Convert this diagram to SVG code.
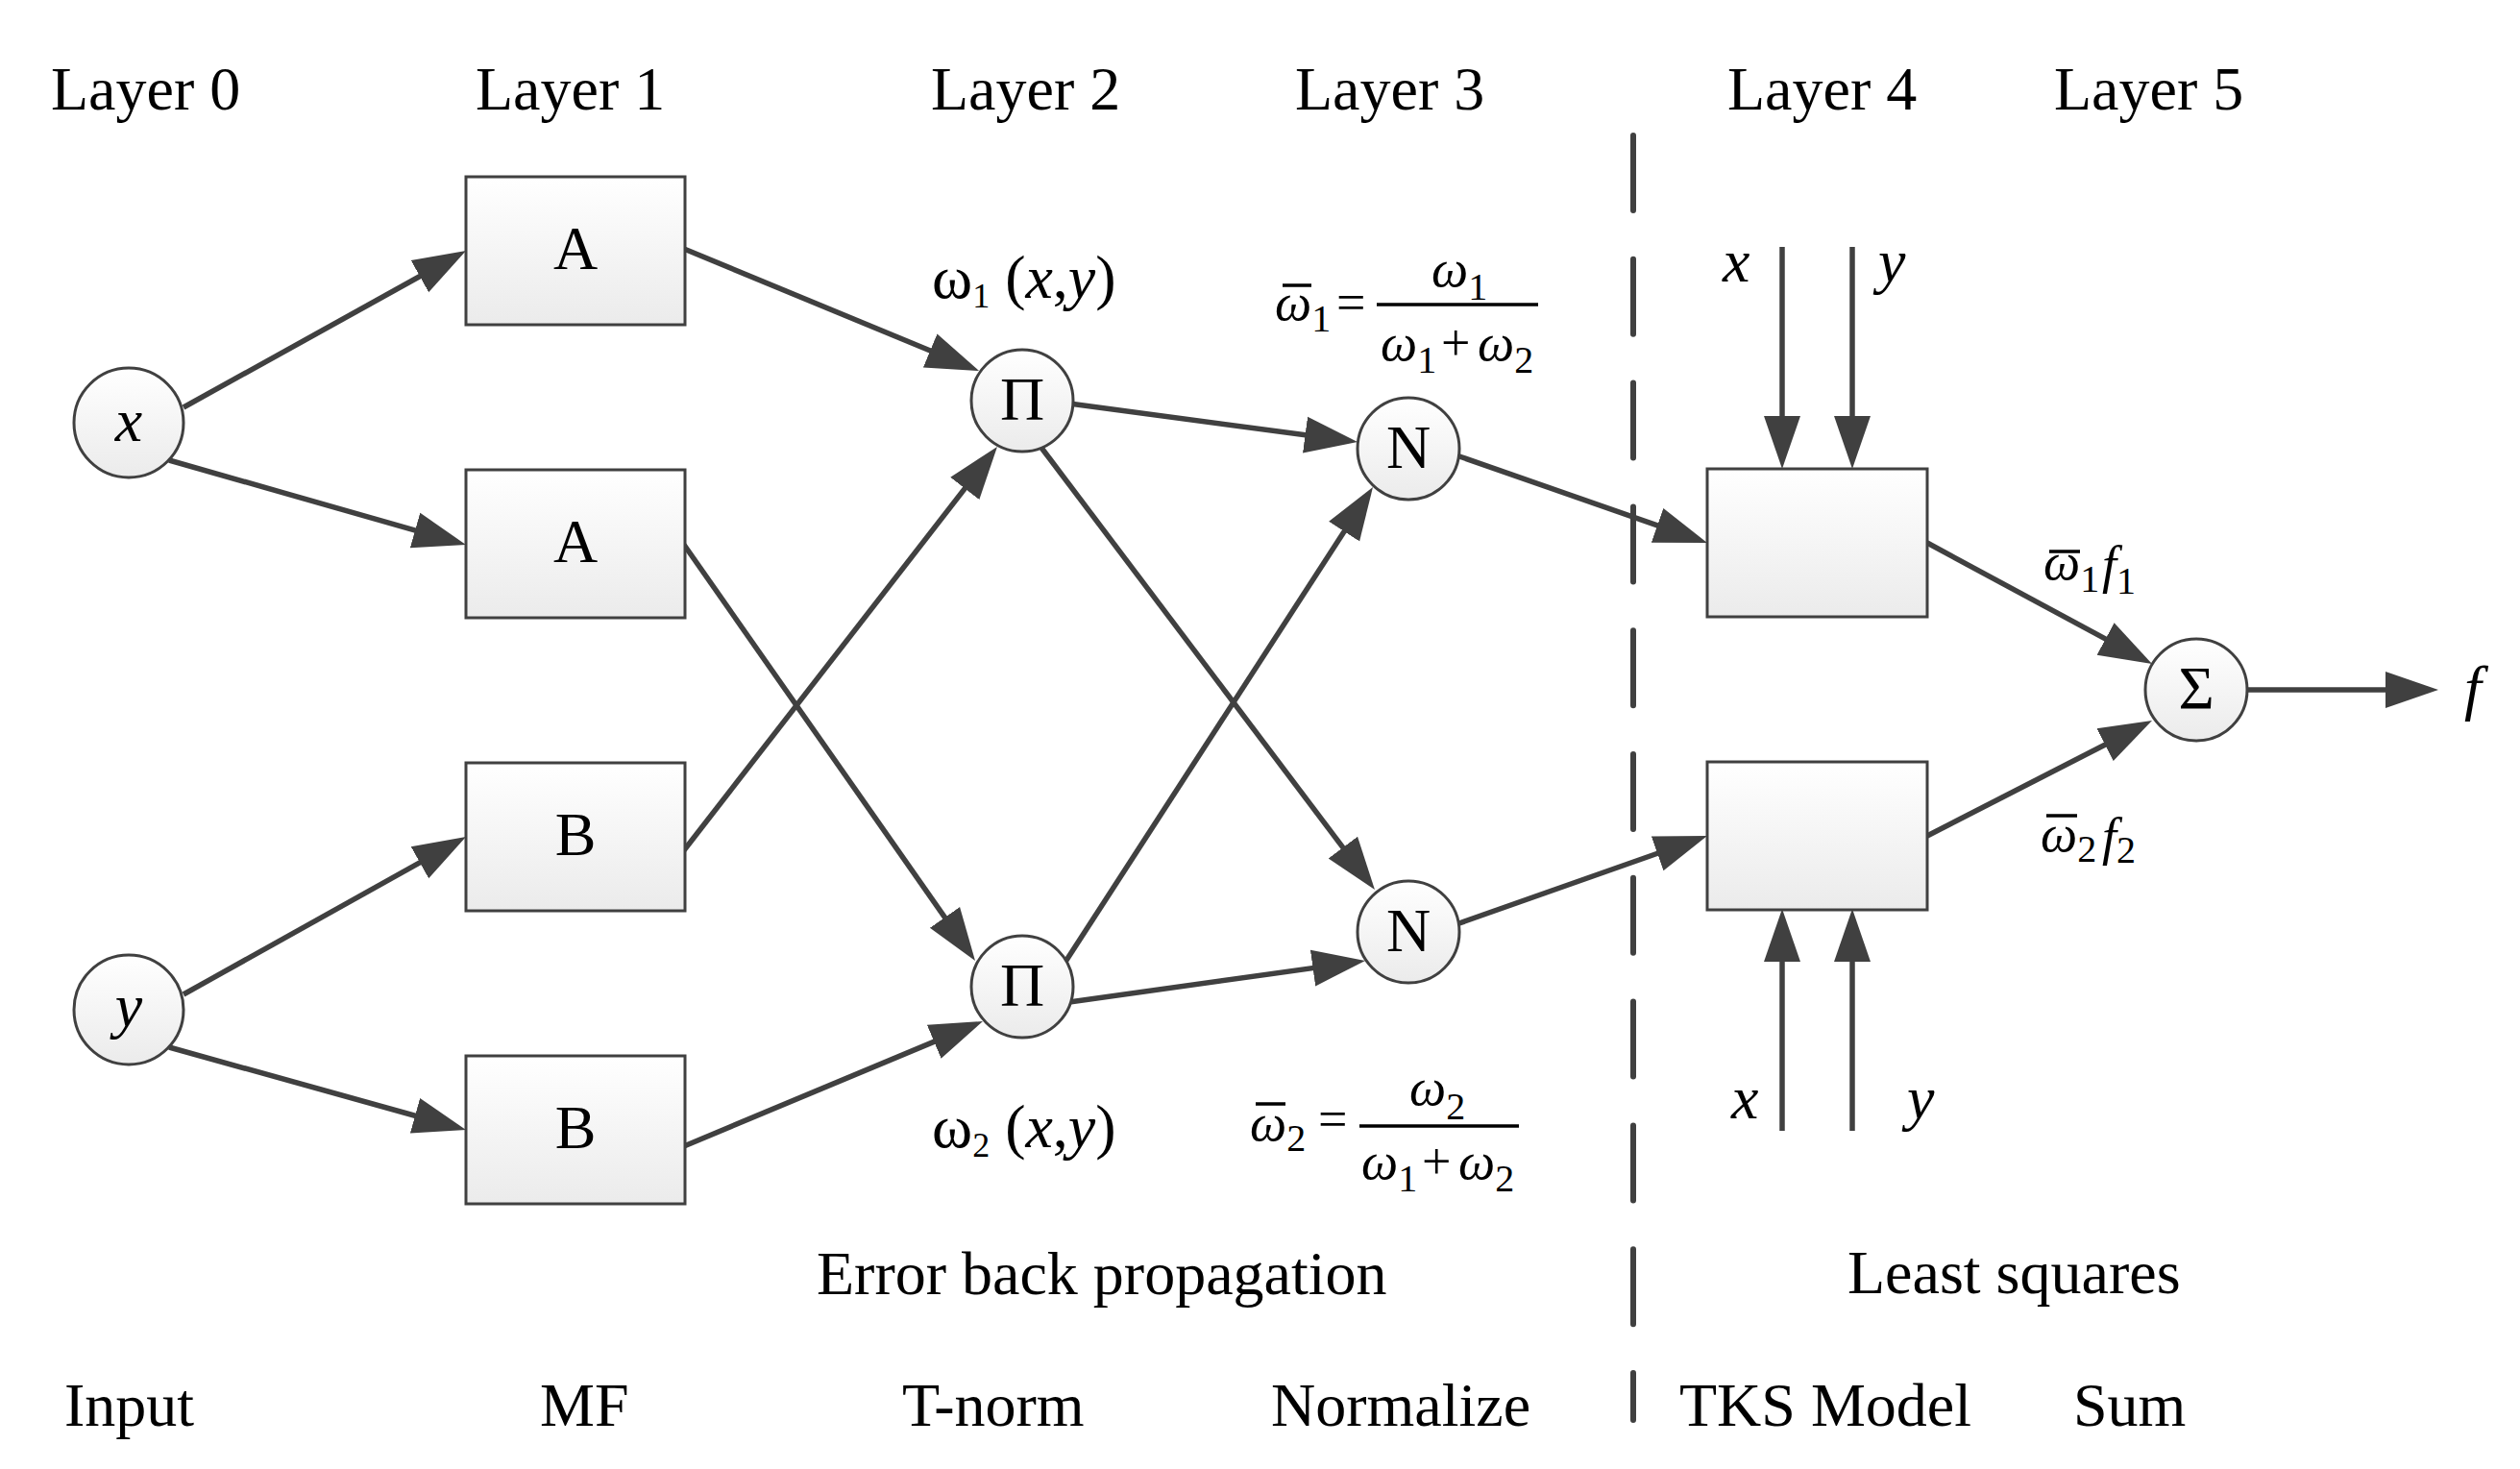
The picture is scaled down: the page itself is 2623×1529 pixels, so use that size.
<svg xmlns="http://www.w3.org/2000/svg" width="2623" height="1529" viewBox="0 0 2623 1529">
<style>
.ln{stroke:#404040;stroke-width:5.5;fill:none}
.arr{marker-end:url(#ah)}
.nd{fill:url(#g);stroke:#404040;stroke-width:3}
.dash{stroke:#404040;stroke-width:6;stroke-linecap:round;stroke-dasharray:78 50.8;fill:none}
.bar{stroke:#000;stroke-width:3.5}
.t{font-family:"Liberation Serif","Times New Roman",serif;font-size:64px;fill:#000}
.c{text-anchor:middle}
.i{font-style:italic}
.m{font-family:"Liberation Serif","Times New Roman",serif;font-size:54px;font-style:italic;fill:#000}
.ms{font-size:40px;font-style:normal}
.mo{font-size:54px;font-style:normal}
</style>
<defs>
<linearGradient id="g" x1="0" y1="0" x2="0" y2="1">
<stop offset="0" stop-color="#ffffff"/>
<stop offset="1" stop-color="#ebebeb"/>
</linearGradient>
<marker id="ah" markerUnits="userSpaceOnUse" markerWidth="56" markerHeight="40" refX="25" refY="19" orient="auto" viewBox="0 0 56 38">
<path d="M0,0 L55,19 L0,38 Z" fill="#404040"/>
</marker>
</defs>
<rect width="2623" height="1529" fill="#ffffff"/>

<g id="headers" class="t">
<text x="53" y="114">Layer 0</text>
<text x="495" y="114">Layer 1</text>
<text x="969" y="114">Layer 2</text>
<text x="1348" y="114">Layer 3</text>
<text x="1798" y="114">Layer 4</text>
<text x="2138" y="114">Layer 5</text>
</g>

<g id="divider">
<line class="dash" x1="1700" y1="141" x2="1700" y2="1478"/>
</g>

<g id="connectors">
<line class="ln arr" x1="191" y1="424" x2="458.8" y2="275.5"/>
<line class="ln arr" x1="176" y1="479" x2="456.1" y2="558.8"/>
<line class="ln arr" x1="191" y1="1035" x2="458.8" y2="885.6"/>
<line class="ln arr" x1="176" y1="1090" x2="456.1" y2="1168"/>
<line class="ln arr" x1="712" y1="259" x2="991.3" y2="374.5"/>
<line class="ln arr" x1="712" y1="567" x2="997.8" y2="975.4"/>
<line class="ln arr" x1="712" y1="885" x2="1019.6" y2="488.7"/>
<line class="ln arr" x1="712" y1="1193" x2="995.3" y2="1074.6"/>
<line class="ln arr" x1="1113" y1="420" x2="1383.3" y2="456"/>
<line class="ln arr" x1="1084" y1="466" x2="1412.9" y2="902.1"/>
<line class="ln arr" x1="1109" y1="1001" x2="1412.7" y2="532.2"/>
<line class="ln arr" x1="1113" y1="1043" x2="1391.3" y2="1004.1"/>
<line class="ln arr" x1="1519" y1="475" x2="1748.7" y2="555.1"/>
<line class="ln arr" x1="1516" y1="962" x2="1748.7" y2="880"/>
<line class="ln arr" x1="1855" y1="257" x2="1855" y2="458"/>
<line class="ln arr" x1="1928" y1="257" x2="1928" y2="458"/>
<line class="ln arr" x1="1855" y1="1177" x2="1855" y2="976"/>
<line class="ln arr" x1="1928" y1="1177" x2="1928" y2="976"/>
<line class="ln arr" x1="2006" y1="565" x2="2213.6" y2="676.8"/>
<line class="ln arr" x1="2006" y1="870" x2="2213.3" y2="763.7"/>
<line class="ln arr" x1="2336" y1="718" x2="2508" y2="718"/>
</g>

<g id="node-x">
<circle class="nd" cx="134" cy="440" r="57"/>
<text class="t c i" x="134" y="459">x</text>
</g>
<g id="node-y">
<circle class="nd" cx="134" cy="1051" r="57"/>
<text class="t c i" x="134" y="1068">y</text>
</g>

<g id="node-A1">
<rect class="nd" x="485" y="184" width="228" height="154"/>
<text class="t c" x="599" y="280">A</text>
</g>
<g id="node-A2">
<rect class="nd" x="485" y="489" width="228" height="154"/>
<text class="t c" x="599" y="585">A</text>
</g>
<g id="node-B1">
<rect class="nd" x="485" y="794" width="228" height="154"/>
<text class="t c" x="599" y="890">B</text>
</g>
<g id="node-B2">
<rect class="nd" x="485" y="1099" width="228" height="154"/>
<text class="t c" x="599" y="1195">B</text>
</g>

<g id="node-P1">
<circle class="nd" cx="1064" cy="417" r="53"/>
<text class="t c" x="1064" y="437">Π</text>
</g>
<g id="node-P2">
<circle class="nd" cx="1064" cy="1027" r="53"/>
<text class="t c" x="1064" y="1047">Π</text>
</g>

<g id="node-N1">
<circle class="nd" cx="1466" cy="467" r="53"/>
<text class="t c" x="1466" y="487">N</text>
</g>
<g id="node-N2">
<circle class="nd" cx="1466" cy="970" r="53"/>
<text class="t c" x="1466" y="990">N</text>
</g>

<g id="node-TKS1">
<rect class="nd" x="1777" y="488" width="229" height="154"/>
</g>
<g id="node-TKS2">
<rect class="nd" x="1777" y="793" width="229" height="154"/>
</g>

<g id="node-Sum">
<circle class="nd" cx="2286" cy="718" r="53"/>
<text class="t c" x="2286" y="738">Σ</text>
</g>

<g id="labels">
<text class="t" x="970" y="310">ω<tspan font-size="36" dy="10">1</tspan><tspan dy="-10"> (</tspan><tspan class="i">x</tspan>,<tspan class="i">y</tspan>)</text>
<text class="t" x="970" y="1194">ω<tspan font-size="36" dy="10">2</tspan><tspan dy="-10"> (</tspan><tspan class="i">x</tspan>,<tspan class="i">y</tspan>)</text>

<text class="m" x="1327" y="333">ω<tspan class="ms" dy="12">1</tspan><tspan class="mo" x="1391" y="333">=</tspan></text>
<line class="bar" x1="1335" y1="297" x2="1365" y2="297"/>
<line class="bar" x1="1433" y1="317" x2="1601" y2="317"/>
<text class="m" x="1490" y="298">ω<tspan class="ms" dy="14">1</tspan></text>
<text class="m" x="1437" y="375">ω<tspan class="ms" dy="13">1</tspan><tspan class="mo" x="1500" y="375">+</tspan><tspan x="1538" y="375">ω</tspan><tspan class="ms" dy="13">2</tspan></text>

<text class="m" x="1301" y="1187">ω<tspan class="ms" dy="11">2</tspan><tspan class="mo" x="1372" y="1183">=</tspan></text>
<line class="bar" x1="1307" y1="1149" x2="1338" y2="1149"/>
<line class="bar" x1="1415" y1="1172" x2="1581" y2="1172"/>
<text class="m" x="1467" y="1150">ω<tspan class="ms" dy="15">2</tspan></text>
<text class="m" x="1417" y="1227">ω<tspan class="ms" dy="13">1</tspan><tspan class="mo" x="1480" y="1227">+</tspan><tspan x="1518" y="1227">ω</tspan><tspan class="ms" dy="13">2</tspan></text>

<text class="t i" x="1793" y="293">x</text>
<text class="t i" x="1955" y="293">y</text>
<text class="t i" x="1802" y="1164">x</text>
<text class="t i" x="1985" y="1164">y</text>

<text class="m" x="2127" y="603">ω<tspan class="ms" dy="13">1</tspan><tspan x="2188" y="606">f</tspan><tspan class="ms" dy="12">1</tspan></text>
<line class="bar" x1="2133" y1="574" x2="2165" y2="574"/>

<text class="m" x="2124" y="886">ω<tspan class="ms" dy="11">2</tspan><tspan x="2188" y="889">f</tspan><tspan class="ms" dy="9">2</tspan></text>
<line class="bar" x1="2130" y1="849" x2="2162" y2="849"/>

<text class="t i" x="2565" y="737">f</text>

<text class="t" x="850" y="1347">Error back propagation</text>
<text class="t" x="1923" y="1346">Least squares</text>

<text class="t" x="67" y="1484">Input</text>
<text class="t" x="562" y="1484">MF</text>
<text class="t" x="939" y="1484">T-norm</text>
<text class="t" x="1323" y="1484">Normalize</text>
<text class="t" x="1748" y="1484">TKS Model</text>
<text class="t" x="2158" y="1484">Sum</text>
</g>
</svg>
